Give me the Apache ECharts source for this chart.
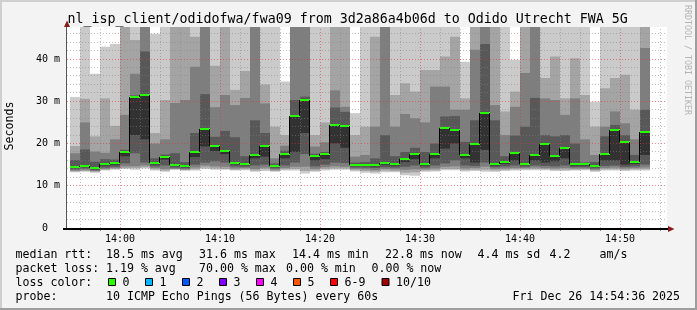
<!DOCTYPE html>
<html><head><meta charset="utf-8">
<script src="https://cdn.jsdelivr.net/npm/echarts@6/dist/echarts.min.js"></script>
<style>html,body{margin:0;padding:0;background:#f3f3f3}#c{width:697px;height:310px}</style>
</head><body><div id="c"></div>
<script>
// ---- data (ms), one value per one-minute column starting 13:55 ----
const firstColumn = '13:55';
const pingMax = [31.0,55,36.5,42.9,43.6,55,55,55,46.0,55, 55,55,55,55,55,55,55,55,55,55, 55,34.7,55,55,55,55,55,55,27.2,55, 55,55,55,55,55,55,55,55,55,39.4, 55,55,55,55,39.8,55,55,55,55,55, 55,55,29.9,55,55,55,55,55];
const ping9 = [19.4,30.6,21.7,30.7,24.2,50,44.5,52,22.5,30.3, 50,50,45.3,52,38.4,50,32.7,37.2,52,34.0, 24.0,22.0,52,52,22.0,25.0,52,52,22.0,24.0, 45.3,52,31.5,34.3,32.3,37.4,37.4,40.6,45.3,30.7, 52,52,52,27.6,32.3,52,52,35.5,40.6,30.7, 40.2,31.5,24.0,33.1,35.5,36.3,28.0,52];
const ping8 = [17.7,25.0,18.1,17.8,21.0,26.8,36.5,50,20.0,21.0, 29.6,30.3,38.2,50,28.6,31.5,29.1,30.8,50,29.5, 16.5,19.5,50,50,19.3,20.3,32.6,28.7,16.9,17.3, 24.0,50,24.0,27.0,26.0,25.0,33.5,33.5,28.0,28.0, 42.2,50,29.1,22.0,28.7,36.7,50,30.7,30.3,26.8, 30.7,21.0,17.3,24.0,27.6,24.8,21.0,42.6];
const ping7 = [16.1,18.6,15.7,16.3,16.2,18.5,31.4,41.8,16.5,17.4, 17.7,15.6,22.5,31.7,21.6,23.0,21.5,17.0,25.5,22.5, 15.3,18.3,30.3,31.1,17.6,18.0,28.5,27.5,15.5,15.6, 16.5,22.0,17.0,18.0,19.0,18.0,20.0,26.4,26.5,20.4, 25.5,43.6,25.5,17.0,21.9,24.0,30.8,22.0,21.7,22.0, 20.0,15.5,15.6,21.7,24.4,22.0,17.3,28.0];
const median = [14.5,14.8,14.3,15.2,15.5,18.1,31.1,31.6,15.5,16.7, 15.0,14.7,18.1,23.5,19.5,18.3,15.5,15.2,17.4,19.5, 14.8,17.6,26.6,30.2,17.1,17.5,24.4,24.2,15.0,15.0, 15.0,15.5,15.2,16.4,17.5,15.1,17.6,23.8,23.3,17.2, 20.0,27.3,15.1,15.7,17.8,15.2,17.2,20.0,17.0,19.0, 15.1,15.1,14.8,17.5,23.1,20.3,15.7,22.8];
const ping5 = [14.2,14.5,14.0,14.8,15.0,17.0,22.0,21.0,15.1,16.2, 14.7,14.4,16.8,19.3,18.2,17.5,15.1,14.9,16.5,16.9, 14.5,16.5,18.0,22.5,16.0,16.3,20.0,19.0,14.7,14.7, 14.6,15.0,14.8,15.6,16.3,14.8,16.5,18.8,20.0,16.5, 15.5,18.5,14.8,15.2,16.0,14.9,16.0,15.5,15.8,16.5, 14.8,14.8,14.5,16.0,16.0,15.0,15.2,17.3];
const ping4 = [13.9,14.1,13.7,14.3,14.5,15.3,17.7,15.5,14.6,14.8, 14.3,14.1,15.0,15.5,15.8,15.5,14.6,14.5,14.8,15.0, 14.1,14.8,15.5,17.5,14.6,15.0,15.5,15.4,14.3,14.3, 14.2,14.4,14.3,14.5,14.8,14.3,14.8,15.3,16.0,14.8, 14.7,15.5,14.4,14.6,14.8,14.5,14.8,14.7,14.6,14.8, 14.4,14.4,14.1,14.7,14.8,14.5,14.6,15.0];
const ping3 = [13.6,13.8,13.5,14.0,14.2,14.6,14.6,14.8,14.2,14.0, 14.0,13.9,14.3,14.8,14.6,14.5,14.1,14.2,14.0,14.3, 13.8,14.2,14.5,14.5,14.0,14.4,14.6,14.5,14.0,13.9, 13.7,14.0,13.9,13.8,13.9,13.9,14.1,14.5,14.6,14.1, 14.2,14.5,14.0,14.1,14.2,14.2,14.3,14.2,14.1,14.2, 14.1,14.1,13.8,14.2,14.3,14.1,14.2,14.3];
const ping2 = [13.4,13.5,13.3,13.8,14.0,14.2,14.2,14.4,13.9,13.6, 13.9,13.7,13.9,14.3,14.1,14.0,13.8,13.9,13.6,13.9, 13.5,13.9,14.0,13.5,13.6,14.0,14.1,14.1,13.7,13.5, 13.3,13.6,13.5,13.1,13.2,13.6,13.7,14.0,14.0,13.7, 13.8,13.8,13.6,13.8,13.9,13.9,14.0,13.9,13.8,13.8, 13.8,13.9,13.6,13.9,13.9,13.8,13.9,13.9];
const pingMin = [13.2,13.3,13.1,13.6,13.8,14.0,13.8,14.1,13.6,13.3, 13.8,13.6,13.6,14.0,13.8,13.8,13.6,13.7,13.3,13.5, 13.3,13.6,13.6,12.9,13.3,13.6,13.8,13.8,13.4,13.1, 12.9,13.2,13.2,12.5,12.4,13.3,13.4,13.7,13.7,13.4, 13.5,13.3,13.3,13.5,13.6,13.7,13.7,13.7,13.5,13.5, 13.6,13.7,13.3,13.6,13.6,13.5,13.6,13.6];
const xTickLabels = ['14:00','14:10','14:20','14:30','14:40','14:50'];
const yTickLabels = ['0','10 m','20 m','30 m','40 m'];
const lossColors = ['#26ff00','#00b8ff','#0059ff','#7e00ff','#ff00ff','#ff5500','#ff0000','#a10000'];
const lossLabels = ['0','1','2','3','4','5','6-9','10/10'];

// ---- layout constants ----
const X0 = -5.3, X1 = 54.7, YMAX = 47.6;   // minutes relative to 14:00 ; ms
const SMOKE = ['#cacaca','#a4a4a4','#7e7e7e','#585858','#323232'];
const MONO = '"DejaVu Sans Mono", monospace';

const toMin = s => { const [h, m] = s.split(':').map(Number); return (h - 14) * 60 + m; };
const start = toMin(firstColumn);
const rows = median.map((_, i) => [start + i, pingMin[i], ping2[i], ping3[i], ping4[i], ping5[i], median[i], ping7[i], ping8[i], ping9[i], pingMax[i]]);

const gridLines = [];
for (let m = -4; m <= 54; m += 2) gridLines.push([m, 0]);
for (let v = 2; v <= 46; v += 2) gridLines.push([v, 1]);
const xMinorTicks = gridLines.filter(g => g[1] === 0).map(g => g[0]);

function renderSmoke(params, api) {
  const t = api.value(0);
  const children = [];
  for (let k = 1; k <= 5; k++) {
    const lo = api.value(k), hi = api.value(11 - k);
    const a = api.coord([t, hi]), b = api.coord([t + 1, lo]);
    const r = echarts.graphic.clipRectByRect({x: a[0], y: a[1], width: b[0] - a[0], height: b[1] - a[1]}, params.coordSys);
    if (r) children.push({type: 'rect', shape: r, style: {fill: SMOKE[k - 1]}});
  }
  return {type: 'group', children};
}

function renderGrid(params, api) {
  const v = api.value(0), kind = api.value(1);
  const cs = params.coordSys;
  let shape, major;
  if (kind === 0) {
    const x = Math.floor(api.coord([v, 0])[0]) + 0.5;
    shape = {x1: x, y1: cs.y + cs.height, x2: x, y2: cs.y};
    major = v % 10 === 0;
  } else {
    const y = Math.floor(api.coord([0, v])[1]) + 0.5;
    shape = {x1: cs.x, y1: y, x2: cs.x + cs.width, y2: y};
    major = v % 10 === 0;
  }
  return {type: 'line', shape, style: {stroke: major ? 'rgba(225,50,50,0.55)' : 'rgba(130,130,130,0.5)', lineWidth: 1, lineDash: [1, 2]}};
}

function renderMedian(params, api) {
  const i = params.dataIndex;
  const t = api.value(0), m = api.value(1);
  const p = api.coord([t, m]), q = api.coord([t + 1, m]);
  const y = Math.round(p[1]);
  const children = [];
  if (i > 0) {
    const prev = api.coord([t, median[i - 1]]);
    children.push({type: 'line', shape: {x1: p[0] - 0.5, y1: Math.round(prev[1]), x2: p[0] - 0.5, y2: y}, style: {stroke: '#000', lineWidth: 1}});
  }
  children.push({type: 'line', shape: {x1: p[0], y1: y + 0.5, x2: q[0], y2: y + 0.5}, style: {stroke: '#000', lineWidth: 1}});
  children.push({type: 'rect', shape: {x: p[0], y: y - 1, width: q[0] - p[0], height: 2}, style: {fill: lossColors[0]}});
  return {type: 'group', children};
}

const chart = echarts.init(document.getElementById('c'), null, {renderer: 'canvas', width: 697, height: 310});

function txt(x, y, text, size, extra) {
  return Object.assign({type: 'text', x, y, silent: true, z: 10,
    style: Object.assign({text, fontFamily: MONO, fontSize: size, fill: '#000', align: 'left', verticalAlign: 'middle'}, extra || {})});
}

const graphics = [
  // frame
  {type: 'rect', shape: {x: 0, y: 0, width: 697, height: 2}, style: {fill: '#cfcfcf'}, silent: true},
  {type: 'rect', shape: {x: 0, y: 0, width: 2, height: 310}, style: {fill: '#cfcfcf'}, silent: true},
  {type: 'rect', shape: {x: 0, y: 308, width: 697, height: 2}, style: {fill: '#9e9e9e'}, silent: true},
  {type: 'rect', shape: {x: 695, y: 0, width: 2, height: 310}, style: {fill: '#9e9e9e'}, silent: true},
  // axes
  {type: 'line', shape: {x1: 66.5, y1: 229, x2: 66.5, y2: 24}, style: {stroke: '#555', lineWidth: 1}, z: 10, silent: true},
  {type: 'line', shape: {x1: 63, y1: 229, x2: 670, y2: 229}, style: {stroke: '#000', lineWidth: 2}, z: 10, silent: true},
  {type: 'polygon', shape: {points: [[67, 20.5], [64, 27], [70, 27]]}, style: {fill: '#8b1a1a'}, z: 11, silent: true},
  {type: 'polygon', shape: {points: [[674.5, 229], [668, 226], [668, 232]]}, style: {fill: '#8b1a1a'}, z: 11, silent: true},
  // titles
  txt(67.5, 19.5, 'nl_isp_client/odidofwa/fwa09 from 3d2a86a4b06d to Odido Utrecht FWA 5G', 13.3),
  txt(10, 126, 'Seconds', 11.6, {align: 'center'}),
  Object.assign(txt(687, 60, 'RRDTOOL / TOBI OETIKER', 8.3, {align: 'center', fill: '#b4b4b4'}), {rotation: -Math.PI / 2}),
];
graphics[graphics.length - 2].rotation = Math.PI / 2;

const L1 = 254.5, L2 = 268.5, L3 = 282.5, L4 = 296.5;
[[15.5, L1, 'median rtt:'], [106, L1, '18.5 ms avg'], [199, L1, '31.6 ms max'], [292, L1, '14.4 ms min'], [385, L1, '22.8 ms now'], [477.5, L1, '4.4 ms sd'], [549.5, L1, '4.2'], [599.5, L1, 'am/s'],
 [15.5, L2, 'packet loss:'], [106, L2, '1.19 % avg'], [199, L2, '70.00 % max'], [286, L2, '0.00 % min'], [371.5, L2, '0.00 % now'],
 [15.5, L3, 'loss color:'],
 [15.5, L4, 'probe:'], [106, L4, '10 ICMP Echo Pings (56 Bytes) every 60s'], [512.5, L4, 'Fri Dec 26 14:54:36 2025']
].forEach(([x, y, s]) => graphics.push(txt(x, y, s, 11.6)));

const boxX = [108, 145, 182, 219, 256, 293, 330, 381.5];
lossLabels.forEach((lab, i) => {
  graphics.push({type: 'rect', shape: {x: boxX[i] + 0.5, y: 278.5, width: 7, height: 7}, style: {fill: lossColors[i], stroke: '#000', lineWidth: 1}, silent: true, z: 10});
  graphics.push(txt(boxX[i] + 14.5, L3, lab, 11.6));
});

chart.setOption({
  animation: false,
  backgroundColor: '#f3f3f3',
  grid: {left: 67, right: 30, top: 27, bottom: 82, show: true, backgroundColor: '#fff', borderWidth: 0},
  xAxis: {
    type: 'value', min: X0, max: X1,
    axisLine: {show: false}, splitLine: {show: false},
    axisTick: {show: true, customValues: xMinorTicks, length: 3, lineStyle: {color: '#888'}},
    axisLabel: {customValues: [0, 10, 20, 30, 40, 50], formatter: v => xTickLabels[Math.round(v / 10)] || '',
      fontFamily: MONO, fontSize: 10, color: '#000', margin: 6}
  },
  yAxis: {
    type: 'value', min: 0, max: YMAX,
    axisLine: {show: false}, splitLine: {show: false}, axisTick: {show: false},
    axisLabel: {customValues: [0, 10, 20, 30, 40], formatter: v => { const s = yTickLabels[Math.round(v / 10)]; return v === 0 ? s + '  ' : s; },
      fontFamily: MONO, fontSize: 10, color: '#000', margin: 7}
  },
  series: [
    {type: 'custom', name: 'smoke', renderItem: renderSmoke, data: rows, z: 2, silent: true, encode: {x: 0, y: 6}},
    {type: 'custom', name: 'grid', renderItem: renderGrid, data: gridLines, z: 3, silent: true, encode: {x: 0, y: 1}},
    {type: 'custom', name: 'median', renderItem: renderMedian, data: rows.map(r => [r[0], r[6]]), z: 4, silent: true, encode: {x: 0, y: 1}}
  ],
  graphic: graphics
});
</script></body></html>
